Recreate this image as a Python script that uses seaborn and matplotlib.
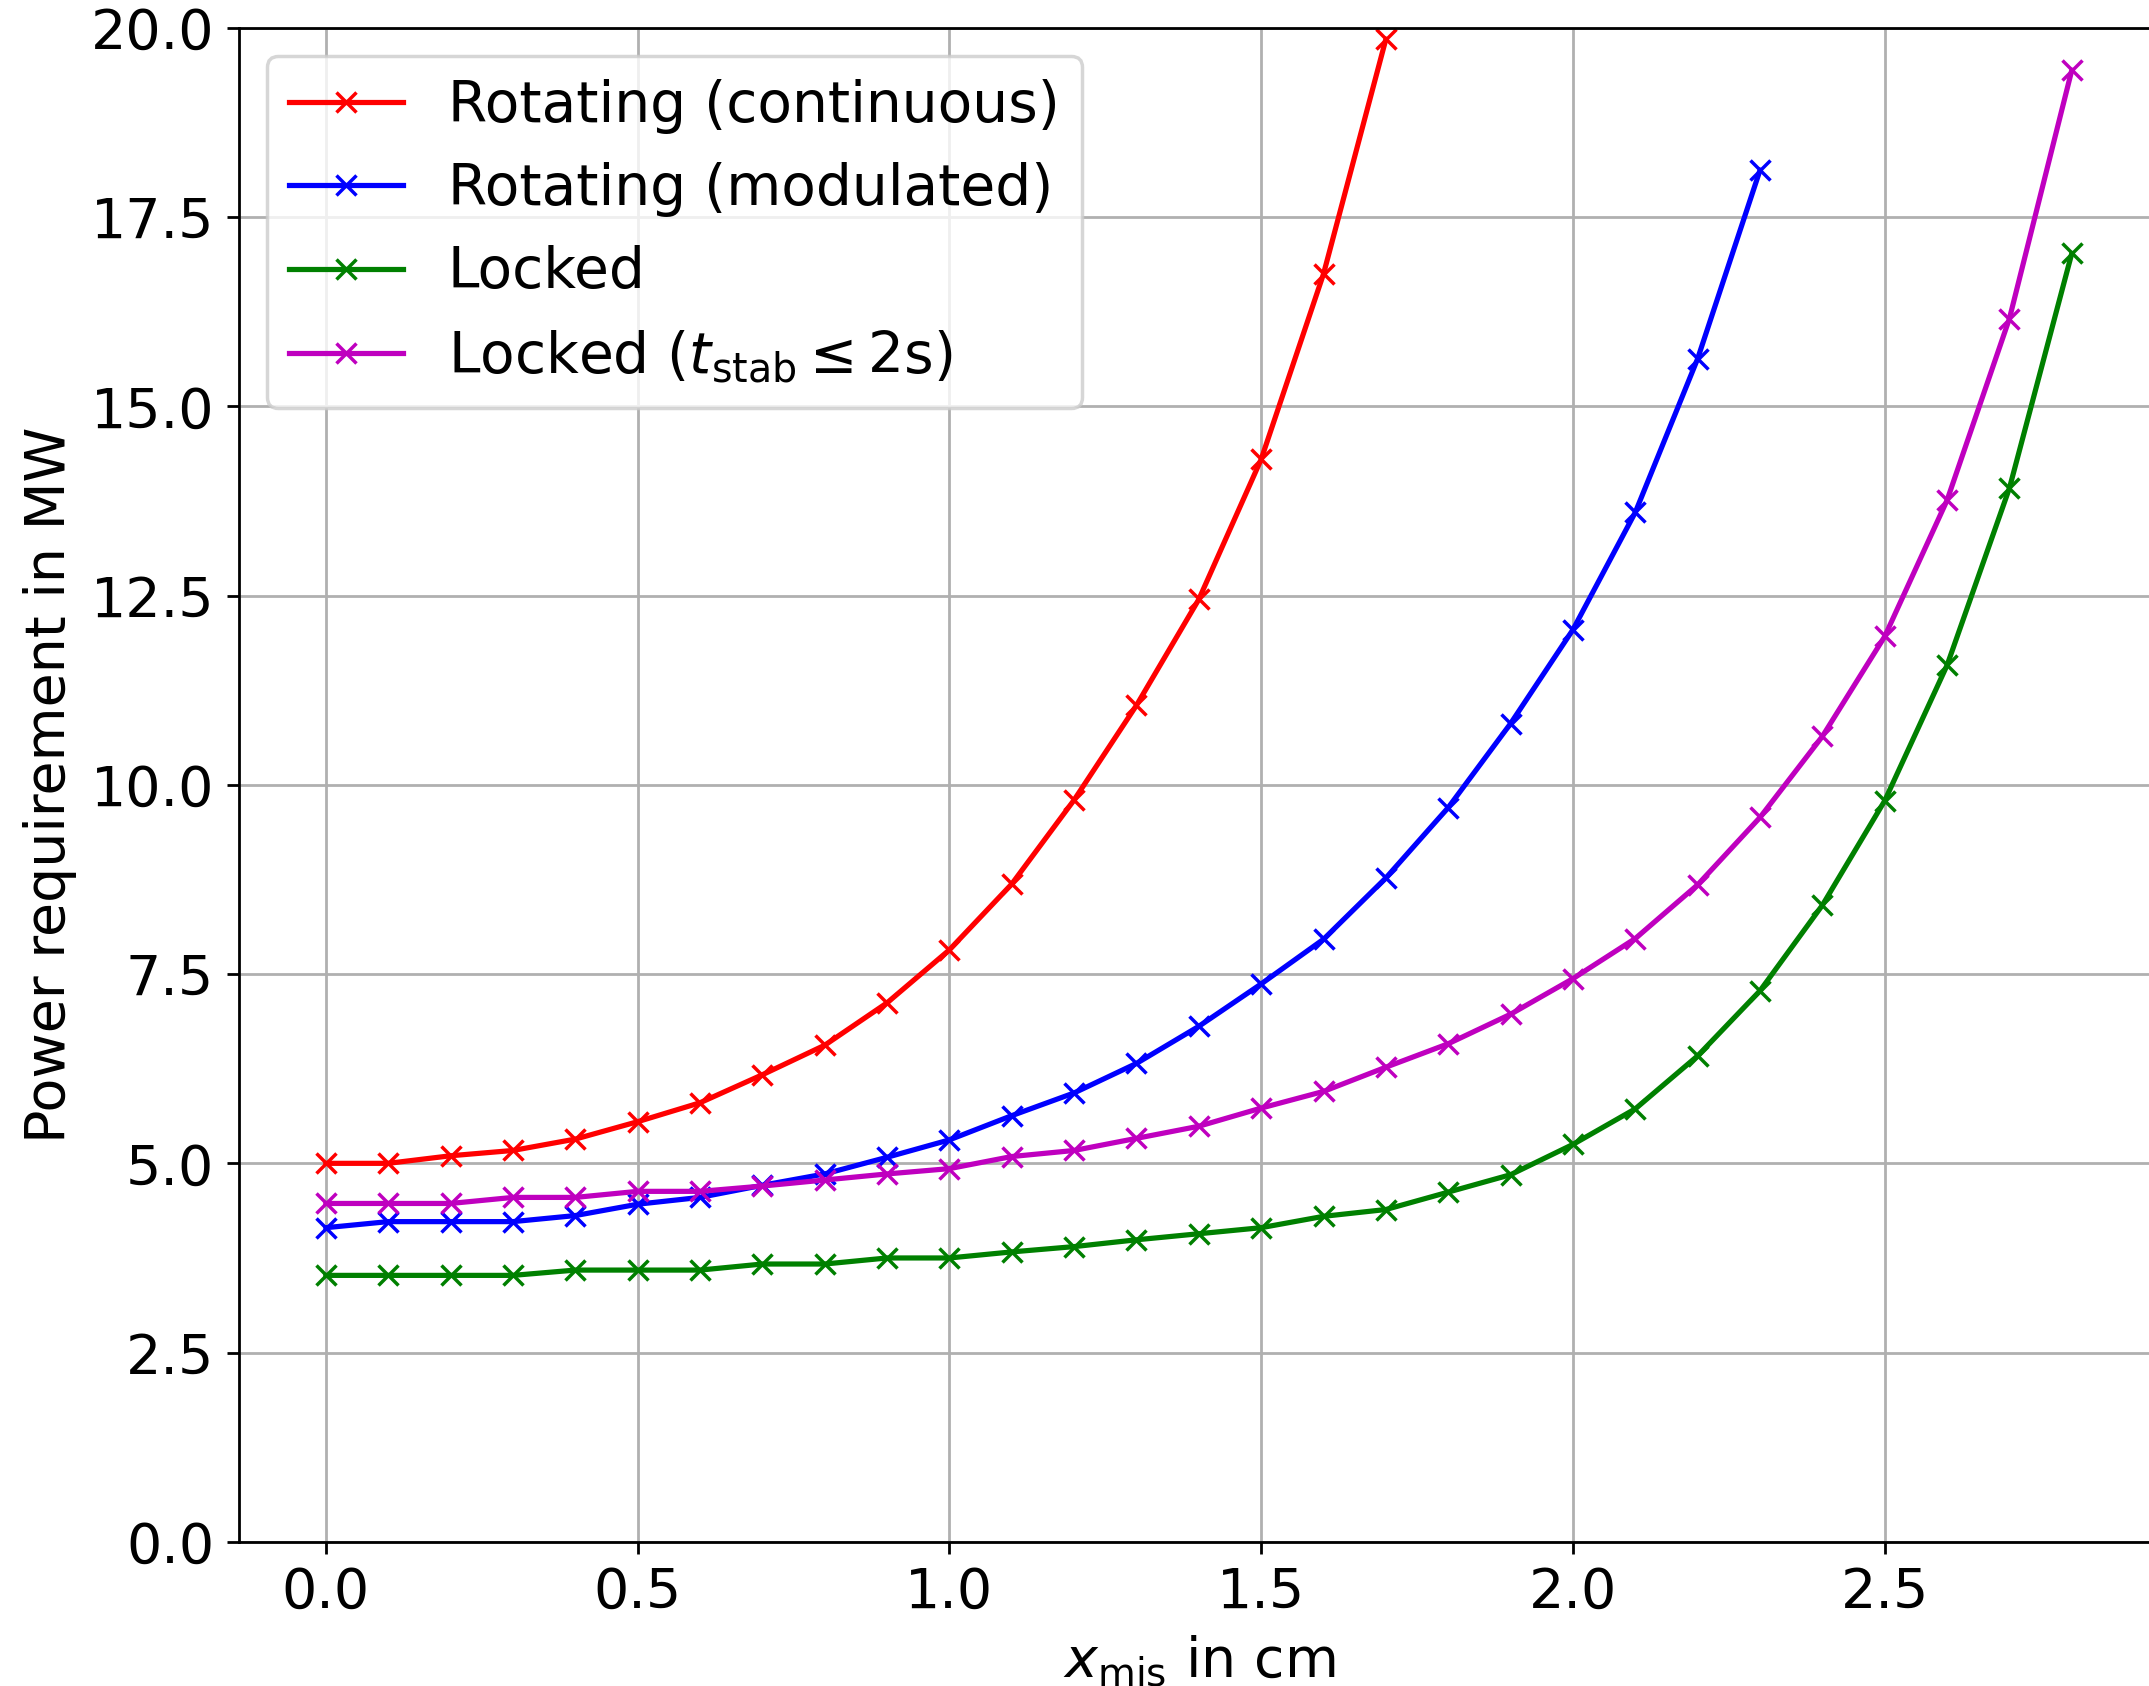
import matplotlib
matplotlib.use("Agg")
import matplotlib.pyplot as plt
import seaborn as sns
import numpy as np
import pandas as pd

# misalignment in cm
x_cont = [0.0, 0.1, 0.2, 0.3, 0.4, 0.5, 0.6, 0.7, 0.8, 0.9, 1.0, 1.1, 1.2, 1.3, 1.4, 1.5, 1.6, 1.7]
x_mod = [0.0, 0.1, 0.2, 0.3, 0.4, 0.5, 0.6, 0.7, 0.8, 0.9, 1.0, 1.1, 1.2, 1.3, 1.4, 1.5,
         1.6, 1.7, 1.8, 1.9, 2.0, 2.1, 2.2, 2.3]
x_locked = [0.0, 0.1, 0.2, 0.3, 0.4, 0.5, 0.6, 0.7, 0.8, 0.9, 1.0, 1.1, 1.2, 1.3, 1.4, 1.5,
            1.6, 1.7, 1.8, 1.9, 2.0, 2.1, 2.2, 2.3, 2.4, 2.5, 2.6, 2.7, 2.8]

# power requirement in MW
p_cont = [5.0, 5.0, 5.1, 5.17, 5.32, 5.55, 5.8, 6.17, 6.56, 7.12, 7.82, 8.69, 9.8,
          11.05, 12.45, 14.3, 16.75, 19.85]
p_mod = [4.15, 4.23, 4.23, 4.23, 4.31, 4.46, 4.55, 4.71, 4.86, 5.08, 5.31, 5.63, 5.93,
         6.32, 6.81, 7.37, 7.96, 8.77, 9.7, 10.81, 12.05, 13.6, 15.63, 18.12]
p_locked = [3.52, 3.52, 3.52, 3.52, 3.59, 3.59, 3.59, 3.67, 3.67, 3.75, 3.75, 3.83, 3.9,
            3.99, 4.07, 4.15, 4.3, 4.39, 4.62, 4.85, 5.25, 5.72, 6.42, 7.28, 8.41, 9.79,
            11.58, 13.92, 17.02]
p_locked_2s = [4.47, 4.47, 4.47, 4.55, 4.55, 4.63, 4.63, 4.7, 4.78, 4.86, 4.93, 5.09,
               5.17, 5.33, 5.49, 5.73, 5.95, 6.27, 6.58, 6.97, 7.44, 7.97, 8.68, 9.57,
               10.64, 11.96, 13.76, 16.16, 19.44]

labels = ["Rotating (continuous)", "Rotating (modulated)", "Locked",
          r"Locked $(t_\mathrm{stab} \leq 2\mathrm{s})$"]
colors = ["red", "blue", "green", "m"]

series = [(x_cont, p_cont), (x_mod, p_mod), (x_locked, p_locked), (x_locked, p_locked_2s)]

plt.rcParams["font.size"] = 16

fig = plt.figure(figsize=(2149 / 250, 1686 / 250), dpi=250)
ax = fig.add_axes([0.111, 0.0855, 0.8937, 0.898])

for (xs, ys), lab, col in zip(series, labels, colors):
    df = pd.DataFrame({"x": xs, "p": ys})
    sns.lineplot(data=df, x="x", y="p", ax=ax, color=col, label=lab,
                 marker="x", markersize=6, markeredgecolor=col,
                 markeredgewidth=1.0, linewidth=1.5)

ax.set_ylim(0, 20)
ax.grid(True)
ax.set_xlabel(r"$x_\mathrm{mis}$ in cm")
ax.set_ylabel("Power requirement in MW")
ax.legend(loc="upper left", fontsize=16.3)

fig.savefig("out.png", dpi=250)
